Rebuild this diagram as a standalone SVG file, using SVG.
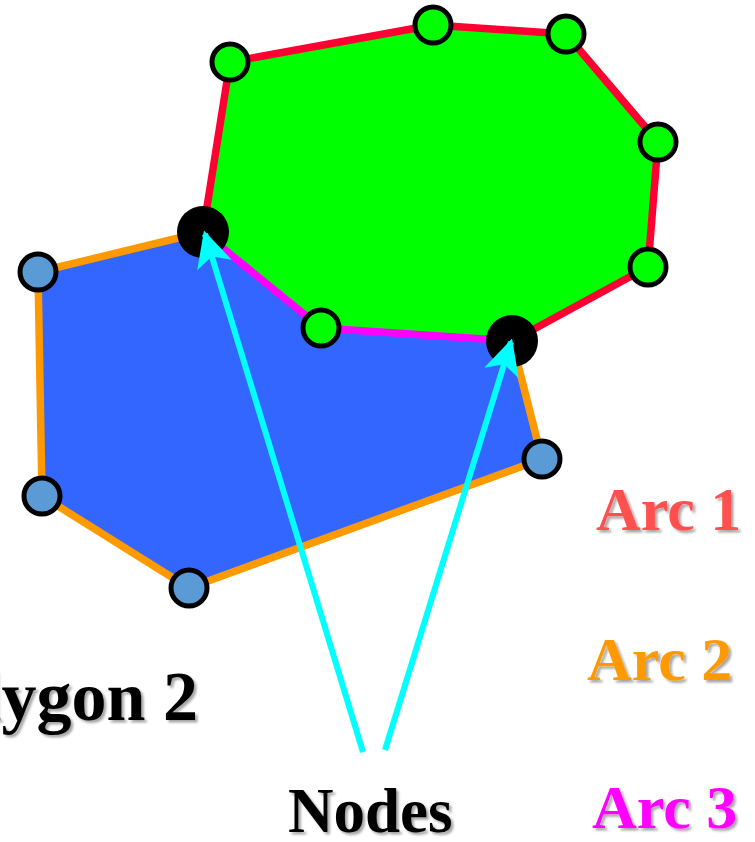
<svg xmlns="http://www.w3.org/2000/svg" width="755" height="842" viewBox="0 0 755 842">
<defs>
<style>
.lbl{font-family:"Liberation Serif","Times New Roman",serif;font-weight:bold;font-size:62px;filter:url(#sh)}
.gn{fill:#00FF00;stroke:#000;stroke-width:5}
.bn{fill:#5B9BD5;stroke:#000;stroke-width:5}
.kn{fill:#000}
.arr{stroke:#00FFFF;stroke-width:6;fill:none;marker-end:url(#ah)}
</style>
<filter id="sh" x="-10%" y="-10%" width="130%" height="140%">
<feDropShadow dx="2.5" dy="2.5" stdDeviation="1.2" flood-color="#000" flood-opacity="0.35"/>
</filter>
<marker id="ah" viewBox="0 0 10 10" refX="9" refY="5" markerWidth="6" markerHeight="6" orient="auto" markerUnits="strokeWidth">
<path d="M0,0 L10,5 L0,10 L2.5,5 Z" fill="#00FFFF"/>
</marker>
</defs>
<g id="polygon2">
<polygon points="203,232 38,272 42,496 189,588 542,459 512,341 321,328" fill="#3366FF"/>
</g>
<g id="polygon1">
<polygon points="203,232 230,62 433,25 566,34 658,142 648,267 512,341 321,328" fill="#00FF00"/>
</g>
<g id="arcs">
<polyline id="arc1" points="203,232 230,62 433,25 566,34 658,142 648,267 512,341" fill="none" stroke="#FF0033" stroke-width="7.5" stroke-linejoin="round"/>
<polyline id="arc2" points="203,232 38,272 42,496 189,588 542,459 512,341" fill="none" stroke="#FF9900" stroke-width="7.5" stroke-linejoin="round"/>
<polyline id="arc3" points="203,232 321,328 512,341" fill="none" stroke="#FF00FF" stroke-width="7.5" stroke-linejoin="round"/>
</g>
<g id="nodes">
<circle id="g1" class="gn" cx="230" cy="62" r="18"/>
<circle id="g2" class="gn" cx="433" cy="25" r="18"/>
<circle id="g3" class="gn" cx="566" cy="34" r="18"/>
<circle id="g4" class="gn" cx="658" cy="142" r="18"/>
<circle id="g5" class="gn" cx="648" cy="267" r="18"/>
<circle id="g6" class="gn" cx="321" cy="328" r="18"/>
<circle id="b1" class="bn" cx="38" cy="272" r="18"/>
<circle id="b2" class="bn" cx="42" cy="496" r="18"/>
<circle id="b3" class="bn" cx="189" cy="588" r="18"/>
<circle id="b4" class="bn" cx="542" cy="459" r="18"/>
<circle id="k1" class="kn" cx="203" cy="232" r="26"/>
<circle id="k2" class="kn" cx="512" cy="341" r="26"/>
</g>
<g id="connectors">
<line class="arr" x1="363" y1="752" x2="205" y2="234"/>
<line class="arr" x1="385" y1="750" x2="511" y2="342"/>
</g>
<g id="labels">
<text class="lbl" x="596" y="530" fill="#FF5050">Arc 1</text>
<text class="lbl" x="587" y="680" fill="#FF9900">Arc 2</text>
<text class="lbl" x="592" y="828" fill="#FF00FF">Arc 3</text>
<text class="lbl" x="288" y="832" fill="#000" style="font-size:63px">Nodes</text>
<text class="lbl" x="198" y="720" fill="#000" text-anchor="end" style="font-size:70px">Polygon 2</text>
</g>
</svg>
